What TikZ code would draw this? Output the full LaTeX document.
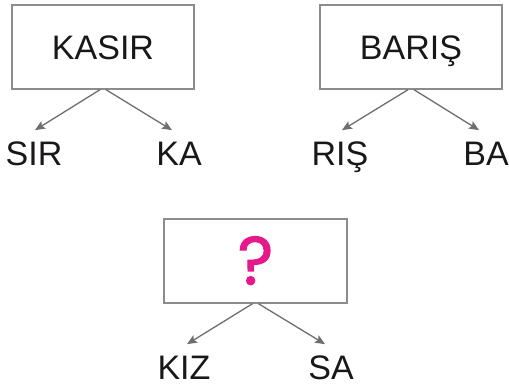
\documentclass[tikz,border=0pt]{standalone}
\usepackage{fontspec}
\setmainfont{Liberation Sans}
\newfontfamily\qfont{Poppins}[FakeBold=1.6]
\usetikzlibrary{arrows.meta}
\definecolor{boxgray}{HTML}{8C8C8C}
\definecolor{arrgray}{HTML}{6E6E6E}
\definecolor{ink}{HTML}{1A1718}
\definecolor{qpink}{HTML}{E5198A}
\begin{document}
\begin{tikzpicture}[x=1pt,y=-1pt,
  wordbox/.style={draw=boxgray,line width=1.4pt,minimum width=182pt,minimum height=84pt,inner sep=0pt,
    text=ink,font=\fontsize{34}{40}\selectfont,text height=24.3pt,text depth=0pt},
  part/.style={inner sep=0pt,text=ink,font=\fontsize{34}{40}\selectfont,text height=24.3pt,text depth=0pt},
  arr/.style={draw=arrgray,line width=1.3pt,-{Stealth[length=10pt,width=8.5pt,inset=2pt]}}]
\useasboundingbox (0,0) rectangle (509,387);
% first
\node[wordbox] (k) at (103,47) {KASIR};
\node[part] (sir) at (34,153.5) {SIR};
\node[part] (ka) at (179,153.5) {KA};
\draw[arr] ([xshift=-3pt]k.south) -- ([xshift=1pt,yshift=11pt]sir.north);
\draw[arr] ([xshift=3pt]k.south) -- ([xshift=-7pt,yshift=11pt]ka.north);
% second
\node[wordbox] (b) at (411,47) {BARIŞ};
\node[part] (ris) at (340,153.5) {RIŞ};
\node[part] (ba) at (486,153.5) {BA};
\draw[arr] ([xshift=-3pt]b.south) -- ([xshift=2pt,yshift=11pt]ris.north);
\draw[arr] ([xshift=3pt]b.south) -- ([xshift=-7pt,yshift=11pt]ba.north);
% third
\node[wordbox,minimum width=183pt,text=qpink,font=\qfont\fontsize{68}{74}\selectfont,text height=47pt] (q) at (255.5,261) {?};
\node[part] (kiz) at (184,367.5) {KIZ};
\node[part] (sa) at (331,367.5) {SA};
\draw[arr] ([xshift=-3pt]q.south) -- ([xshift=3pt,yshift=11pt]kiz.north);
\draw[arr] ([xshift=3pt]q.south) -- ([xshift=-6pt,yshift=11pt]sa.north);
\end{tikzpicture}
\end{document}
